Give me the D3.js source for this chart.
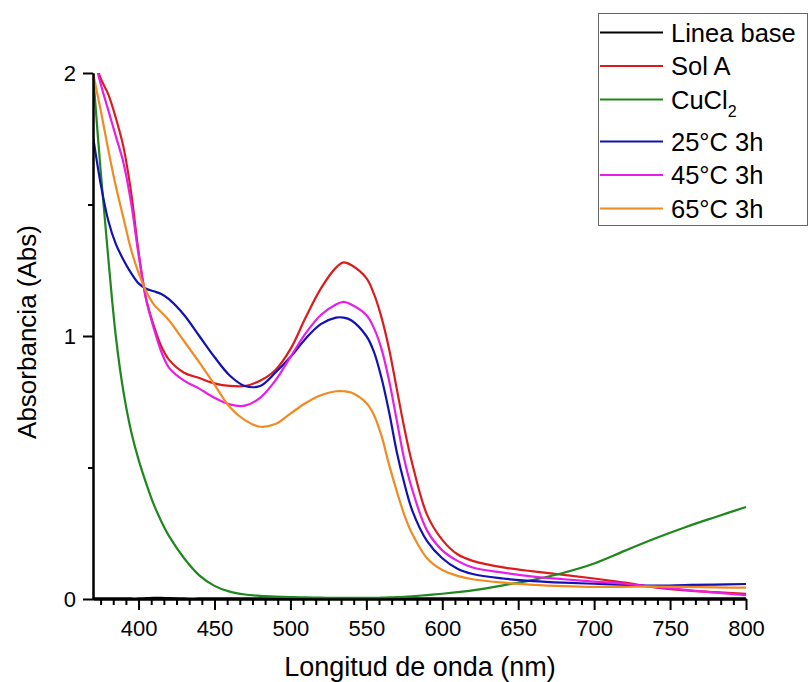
<!DOCTYPE html>
<html>
<head>
<meta charset="utf-8">
<script src="https://cdn.jsdelivr.net/npm/d3@7"></script>
<style>
  html, body { margin: 0; padding: 0; background: #fff; }
  svg { display: block; font-family: "Liberation Sans", Arial, sans-serif; }
</style>
</head>
<body>
<svg id="chart" width="809" height="682"></svg>
<script>
// ---- data ----
const wavelengths = [370,375,380,385,390,395,400,405,410,415,420,430,440,450,460,470,480,490,500,510,520,530,535,540,550,555,560,565,570,575,580,590,600,610,620,640,660,680,700,720,740,760,780,800];

const lineaBase = [0.002,0.002,0.002,0.002,0.002,0.002,0.002,0.003,0.004,0.004,0.003,0.002,0.002,0.002,0.002,0.002,0.002,0.002,0.002,0.002,0.002,0.002,0.002,0.002,0.002,0.002,0.002,0.002,0.002,0.002,0.002,0.002,0.002,0.002,0.002,0.002,0.002,0.002,0.002,0.002,0.002,0.002,0.002,0.002];

const solA = [2.08,1.98,1.92,1.83,1.72,1.55,1.32,1.14,1.04,0.96,0.91,0.86,0.84,0.82,0.81,0.81,0.83,0.87,0.95,1.07,1.18,1.26,1.28,1.27,1.22,1.16,1.07,0.95,0.80,0.65,0.52,0.32,0.225,0.17,0.145,0.12,0.105,0.092,0.078,0.062,0.044,0.033,0.026,0.02];

const cucl2 = [2.0,1.63,1.30,1.00,0.79,0.64,0.53,0.44,0.36,0.295,0.24,0.155,0.09,0.05,0.028,0.017,0.012,0.009,0.007,0.006,0.005,0.004,0.004,0.004,0.004,0.004,0.005,0.006,0.007,0.008,0.01,0.015,0.02,0.026,0.033,0.052,0.073,0.1,0.135,0.183,0.23,0.273,0.312,0.35];

const t25 = [1.76,1.58,1.44,1.35,1.29,1.24,1.20,1.18,1.17,1.16,1.14,1.08,1.00,0.92,0.85,0.81,0.81,0.86,0.92,0.99,1.045,1.07,1.07,1.06,1.00,0.94,0.84,0.71,0.56,0.44,0.34,0.22,0.155,0.115,0.095,0.078,0.068,0.062,0.058,0.054,0.051,0.053,0.055,0.057];

const t45 = [2.08,1.96,1.86,1.76,1.66,1.51,1.31,1.14,1.03,0.94,0.88,0.83,0.80,0.765,0.74,0.735,0.765,0.83,0.92,1.01,1.08,1.12,1.13,1.12,1.08,1.03,0.95,0.83,0.68,0.53,0.42,0.26,0.185,0.145,0.12,0.10,0.085,0.075,0.066,0.058,0.046,0.035,0.024,0.015];

const t65 = [2.0,1.86,1.71,1.57,1.45,1.33,1.24,1.17,1.12,1.09,1.06,0.98,0.90,0.815,0.73,0.68,0.655,0.665,0.705,0.745,0.775,0.79,0.79,0.785,0.745,0.70,0.62,0.51,0.41,0.32,0.25,0.155,0.11,0.088,0.075,0.062,0.054,0.049,0.046,0.046,0.047,0.046,0.044,0.043];

const seriesNames = ["Linea base","Sol A","CuCl2","25°C 3h","45°C 3h","65°C 3h"];
const seriesValues = [lineaBase, solA, cucl2, t25, t45, t65];
const seriesColors = ["#000000","#dc1c1c","#1e871e","#1212b4","#e61ee6","#f28a24"];

const xMajorTicks = [400,450,500,550,600,650,700,750,800];
const yMajorTicks = [0,1,2];
const yMinorTicks = [0.5,1.5];

// ---- layout ----
const svg = d3.select("#chart");
const pLeft = 93, pRight = 746, pTop = 73, pBottom = 599;

const x = d3.scaleLinear().domain([370, 800]).range([pLeft, pRight]);
const y = d3.scaleLinear().domain([0, 2]).range([pBottom, pTop]);

svg.append("defs").append("clipPath").attr("id","plotclip")
  .append("rect").attr("x", pLeft).attr("y", pTop).attr("width", pRight-pLeft+2).attr("height", pBottom-pTop+2);

// minor x ticks: 5 minor between majors
const xMinorTicks = d3.range(0, 52).map(i => 375 + i*50/6)
  .filter(v => v <= 800.01)
  .filter(v => { const r = ((v % 50) + 50) % 50; return r > 0.5 && r < 49.5; });

// lines
const line = d3.line().x((d,i) => x(wavelengths[i])).y(d => y(d)).curve(d3.curveCatmullRom.alpha(0.5));
const plot = svg.append("g").attr("clip-path","url(#plotclip)");
seriesValues.forEach((vals, k) => {
  plot.append("path").datum(vals)
    .attr("d", line)
    .attr("fill","none")
    .attr("stroke", seriesColors[k])
    .attr("stroke-width", 2.2)
    .attr("stroke-linejoin","round");
});

// axes
const xAxisMinor = d3.axisBottom(x).tickValues(xMinorTicks).tickSize(6).tickSizeOuter(0).tickFormat("");
const xAxis = d3.axisBottom(x).tickValues(xMajorTicks).tickSize(11).tickSizeOuter(0).tickPadding(10).tickFormat(d3.format("d"));
const yAxisMinor = d3.axisLeft(y).tickValues(yMinorTicks).tickSize(5).tickSizeOuter(0).tickFormat("");
const yAxis = d3.axisLeft(y).tickValues(yMajorTicks).tickSize(10).tickSizeOuter(0).tickPadding(7).tickFormat(d3.format("d"));

function styleAxis(g) {
  g.select(".domain").attr("stroke","#000").attr("stroke-width",2);
  g.selectAll(".tick line").attr("stroke","#000").attr("stroke-width",2);
  g.selectAll("text").attr("fill","#000").style("font-size","22px").style("font-family","'Liberation Sans', Arial, sans-serif");
}
svg.append("g").attr("transform",`translate(0,${pBottom})`).call(xAxisMinor).call(styleAxis);
svg.append("g").attr("transform",`translate(0,${pBottom})`).call(xAxis).call(styleAxis);
svg.append("g").attr("transform",`translate(${pLeft},0)`).call(yAxisMinor).call(styleAxis);
svg.append("g").attr("transform",`translate(${pLeft},0)`).call(yAxis).call(styleAxis);

// axis titles
svg.append("text")
  .attr("x", 420).attr("y", 676)
  .attr("text-anchor","middle").style("font-size","27px").attr("fill","#000")
  .text("Longitud de onda (nm)");
svg.append("text")
  .attr("transform", `translate(36,${(pTop+pBottom)/2 - 4}) rotate(-90)`)
  .attr("text-anchor","middle").style("font-size","26px").attr("fill","#000")
  .text("Absorbancia (Abs)");

// legend
const lg = svg.append("g");
lg.append("rect").attr("x", 598.5).attr("y", 13.5).attr("width", 209).attr("height", 212)
  .attr("fill","#fff").attr("stroke","#666").attr("stroke-width",1);
seriesNames.forEach((name, i) => {
  const yy = 32.5 + i*33.5 + (i >= 3 ? 8.5 : 0);
  lg.append("line").attr("x1", 600).attr("x2", 663).attr("y1", yy).attr("y2", yy)
    .attr("stroke", seriesColors[i]).attr("stroke-width", 2.2);
  const t = lg.append("text").attr("x", 671).attr("y", yy).attr("dy","0.36em")
    .style("font-size","25.5px").attr("fill","#000");
  if (name === "CuCl2") {
    t.append("tspan").text("CuCl");
    t.append("tspan").attr("dy","8").style("font-size","16px").text("2");
  } else {
    t.text(name);
  }
});
</script>
</body>
</html>
